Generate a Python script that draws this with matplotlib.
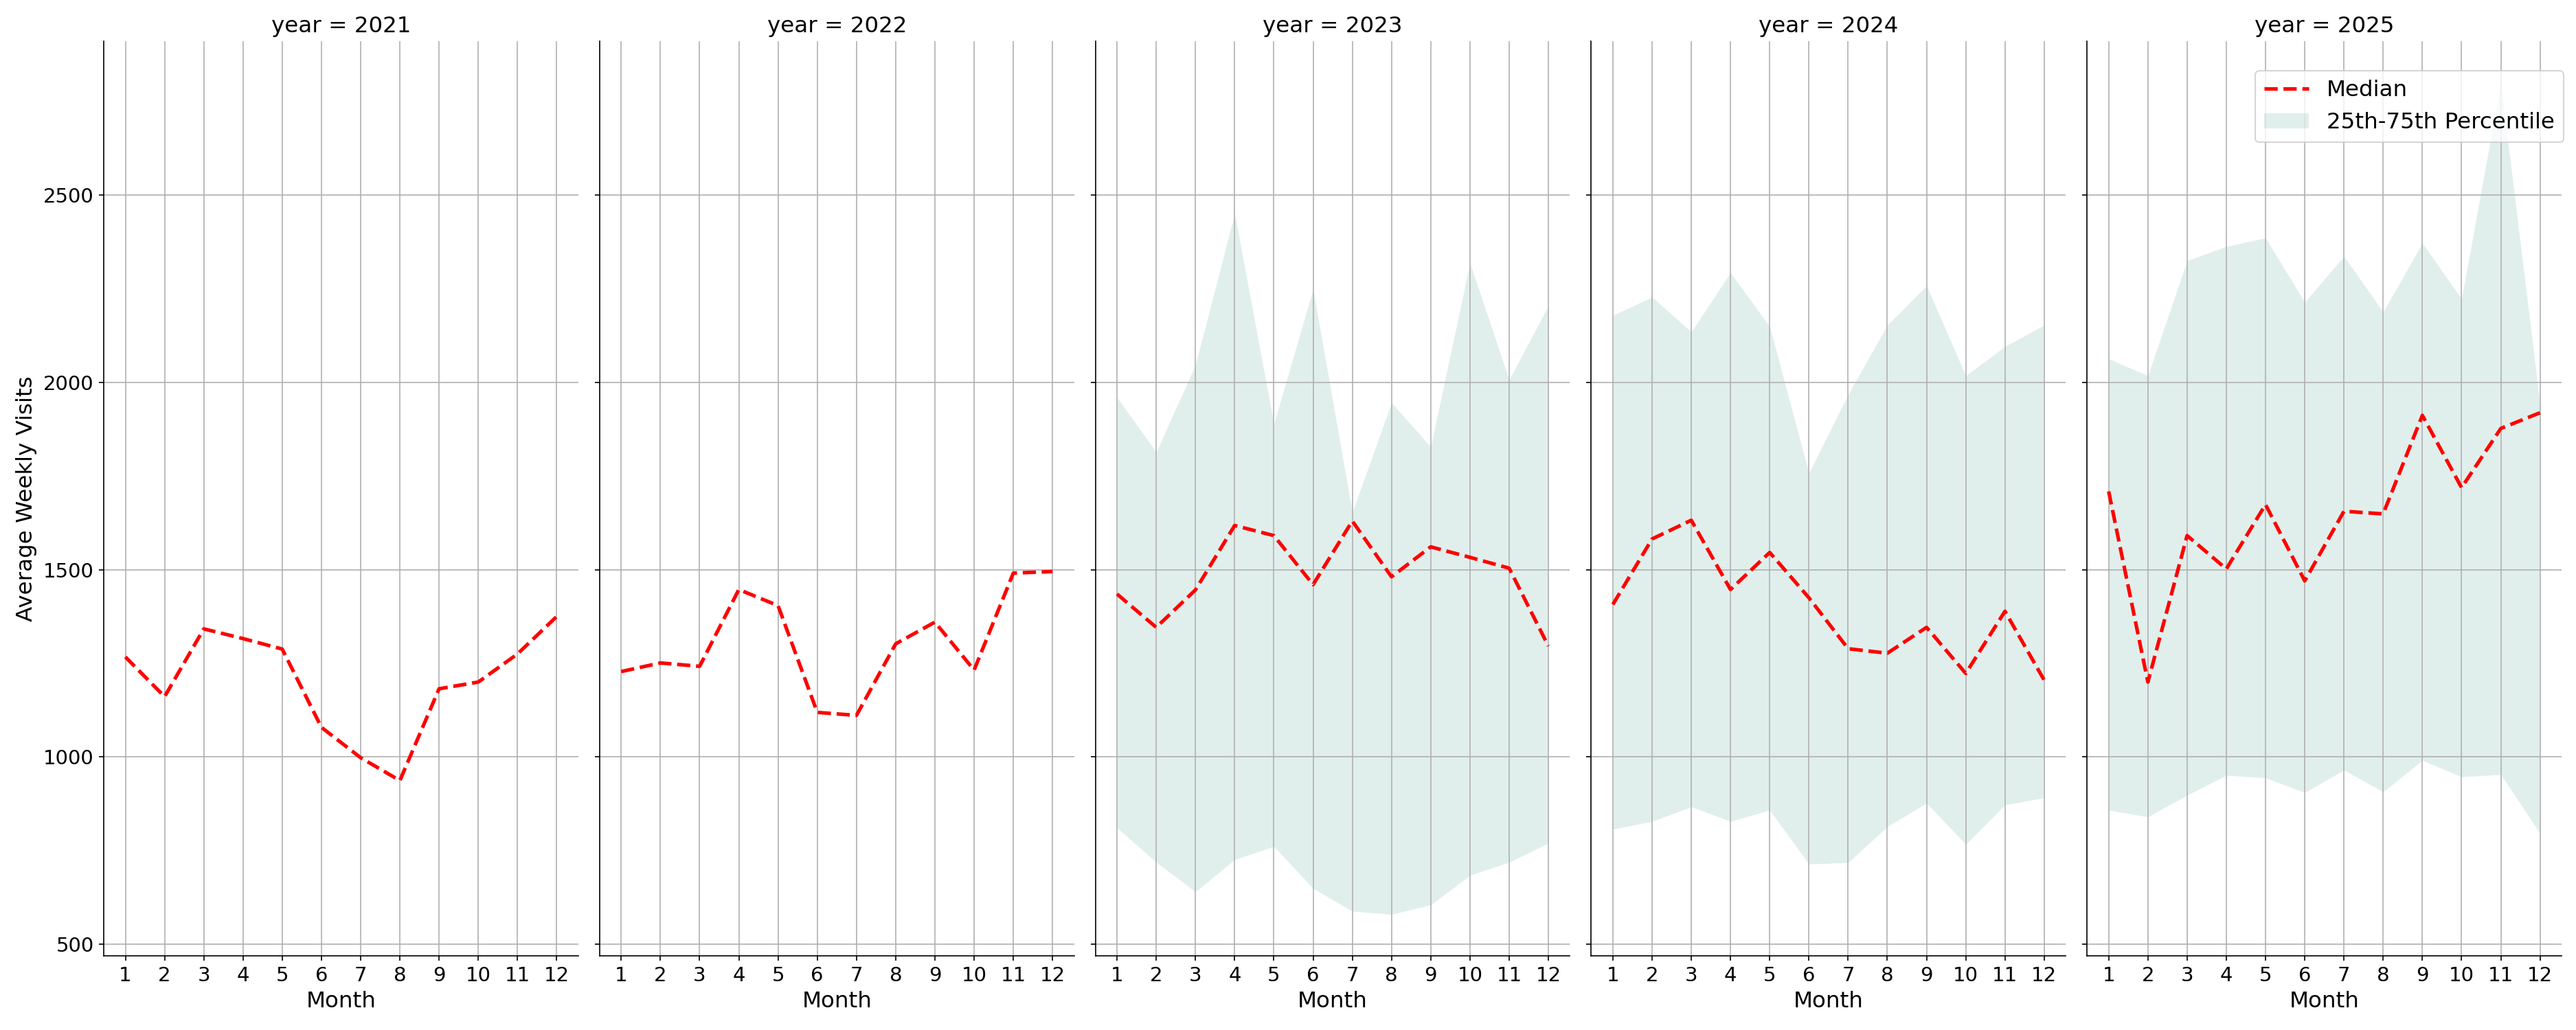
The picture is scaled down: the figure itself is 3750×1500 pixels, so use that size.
import numpy as np
import matplotlib
matplotlib.use("Agg")
import matplotlib.pyplot as plt

# monthly data
months = list(range(1, 13))
years = [2021, 2022, 2023, 2024, 2025]

median_2021 = [1267, 1161, 1342, 1316, 1288, 1079, 998, 937, 1182, 1200, 1275, 1375]
median_2022 = [1228, 1251, 1242, 1447, 1404, 1119, 1111, 1302, 1360, 1232, 1491, 1495]
median_2023 = [1435, 1346, 1446, 1618, 1591, 1460, 1630, 1481, 1561, 1533, 1504, 1296]
median_2024 = [1407, 1582, 1632, 1447, 1546, 1425, 1289, 1277, 1346, 1223, 1389, 1205]
median_2025 = [1709, 1200, 1591, 1502, 1674, 1470, 1656, 1649, 1912, 1719, 1877, 1919]

# 25th / 75th percentile (no spread for the first two years)
p25_2023 = [811, 719, 640, 726, 761, 649, 588, 580, 605, 684, 719, 770]
p75_2023 = [1960, 1814, 2047, 2451, 1889, 2249, 1653, 1946, 1828, 2319, 2007, 2205]
p25_2024 = [807, 828, 867, 828, 858, 714, 718, 814, 877, 767, 872, 891]
p75_2024 = [2179, 2228, 2135, 2293, 2149, 1758, 1968, 2153, 2258, 2018, 2096, 2153]
p25_2025 = [858, 840, 898, 951, 944, 905, 965, 907, 991, 947, 953, 796]
p75_2025 = [2063, 2018, 2325, 2363, 2386, 2214, 2337, 2188, 2372, 2223, 2800, 1942]

medians = {2021: median_2021, 2022: median_2022, 2023: median_2023,
           2024: median_2024, 2025: median_2025}
lower = {2021: median_2021, 2022: median_2022, 2023: p25_2023,
         2024: p25_2024, 2025: p25_2025}
upper = {2021: median_2021, 2022: median_2022, 2023: p75_2023,
         2024: p75_2024, 2025: p75_2025}

big = 15.6
fig, axes = plt.subplots(1, 5, figsize=(25, 10), dpi=150, sharey=True)
fig.subplots_adjust(left=0.0403, right=0.9944, bottom=0.072, top=0.96, wspace=0.045)

for ax, yr in zip(axes, years):
    ax.fill_between(months, lower[yr], upper[yr], color='#69b3a2', alpha=0.2,
                    linewidth=0, label='25th-75th Percentile')
    ax.plot(months, medians[yr], color='red', linestyle='--', linewidth=2.5, label='Median')
    ax.set_title(f"year = {yr}", fontsize=big)
    ax.set_xlabel("Month", fontsize=big)
    ax.set_xticks(months)
    ax.tick_params(labelsize=14)
    ax.grid(True)
    ax.spines['top'].set_visible(False)
    ax.spines['right'].set_visible(False)

axes[0].set_ylabel("Average Weekly Visits", fontsize=big)

# legend sits just off the top right corner of the last panel
handles, labels = axes[-1].get_legend_handles_labels()
axes[-1].legend(handles[::-1], labels[::-1], loc='upper right', fontsize=big,
                bbox_to_anchor=(0.9952, 0.9313), bbox_transform=fig.transFigure,
                borderaxespad=0)

fig.savefig("out.png", dpi=150)
